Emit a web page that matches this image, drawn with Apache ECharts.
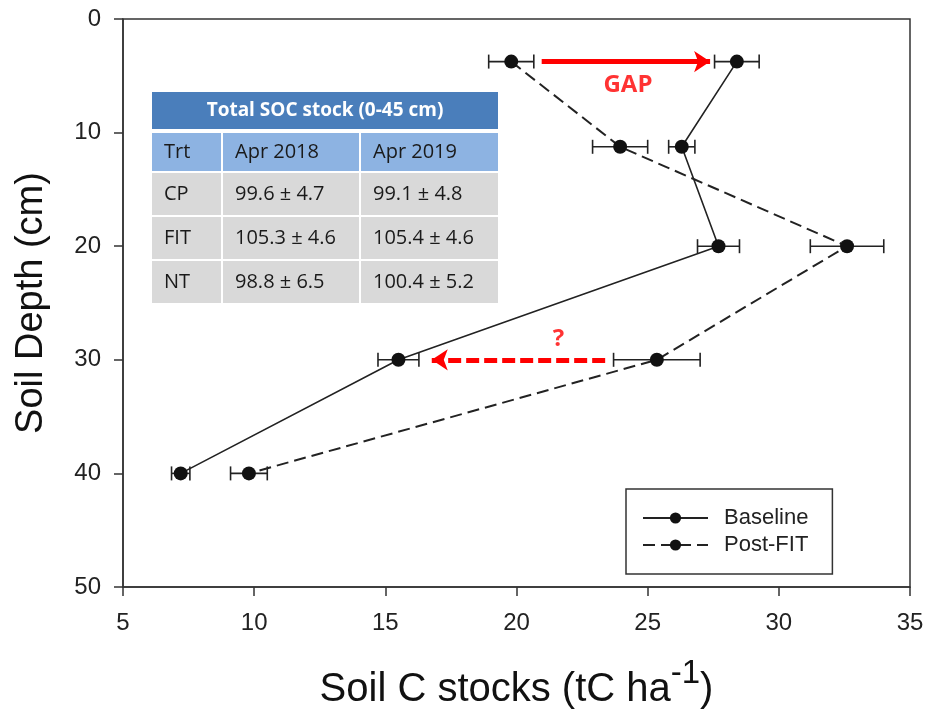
<!DOCTYPE html>
<html>
<head>
<meta charset="utf-8">
<script src="https://cdn.jsdelivr.net/npm/echarts@6/dist/echarts.min.js"></script>
<style>
  html, body { margin: 0; padding: 0; background: #fff; }
  #chart { width: 928px; height: 714px; }
</style>
</head>
<body>
<div id="chart"></div>
<script>
// ---- data ----
var depths        = [3.75, 11.25, 20, 30, 40];
var baselineX     = [28.4, 26.3, 27.7, 15.5, 7.2];
var baselineErr   = [0.85, 0.5, 0.8, 0.78, 0.35];
var postFitX      = [19.8, 23.95, 32.6, 25.35, 9.8];
var postFitErr    = [0.86, 1.05, 1.4, 1.65, 0.7];
var seriesNames   = ['Baseline', 'Post-FIT'];

var xTicks = [5, 10, 15, 20, 25, 30, 35];
var yTicks = [0, 10, 20, 30, 40, 50];

// annotation arrows (data units)
var gapArrow      = [[20.96, 3.75], [27.38, 3.75]];
var questionArrow = [[23.38, 30], [16.77, 30]];
var gapLabel      = ['GAP', 24.25, 5.8];
var questionLabel = ['?', 21.6, 28.2];

// inset table
var tableTitle  = 'Total SOC stock (0-45 cm)';
var tableHeader = ['Trt', 'Apr 2018', 'Apr 2019'];
var tableRows   = [
  ['CP',  '99.6 ± 4.7',  '99.1 ± 4.8'],
  ['FIT', '105.3 ± 4.6', '105.4 ± 4.6'],
  ['NT',  '98.8 ± 6.5',  '100.4 ± 5.2']
];

// ---- build ----
function pairs(xs, ys) { return xs.map(function (x, i) { return [x, ys[i]]; }); }
function triples(xs, ys, es) { return xs.map(function (x, i) { return [x, ys[i], es[i]]; }); }

function errRender(params, api) {
  var x = api.value(0), y = api.value(1), e = api.value(2);
  var a = api.coord([x - e, y]), b = api.coord([x + e, y]);
  var h = 7;
  var st = { stroke: '#222', lineWidth: 1.6 };
  return {
    type: 'group',
    children: [
      { type: 'line', shape: { x1: a[0], y1: a[1], x2: b[0], y2: b[1] }, style: st },
      { type: 'line', shape: { x1: a[0], y1: a[1] - h, x2: a[0], y2: a[1] + h }, style: st },
      { type: 'line', shape: { x1: b[0], y1: b[1] - h, x2: b[0], y2: b[1] + h }, style: st }
    ]
  };
}

// table graphics
var tblFont = '"Open Sans", "Noto Sans", sans-serif';
var colX = [152, 223, 361];
var colW = [69, 136, 137];
var tableLeft = 152, tableWidth = 346;
var rowY = [133, 173, 217, 261];
var rowH = [38, 42, 42, 42];
var graphics = [];
graphics.push({ type: 'rect', shape: { x: tableLeft, y: 92, width: tableWidth, height: 37 }, style: { fill: '#4a7ebb' }, z: 10 });
graphics.push({ type: 'text', x: tableLeft + tableWidth / 2, y: 110.5, z: 11,
  style: { text: tableTitle, fill: '#fff', font: 'bold 19px ' + tblFont, textAlign: 'center', textVerticalAlign: 'middle' } });
var allRows = [tableHeader].concat(tableRows);
allRows.forEach(function (row, r) {
  row.forEach(function (cell, c) {
    graphics.push({ type: 'rect', shape: { x: colX[c], y: rowY[r], width: colW[c], height: rowH[r] },
      style: { fill: r === 0 ? '#8db3e2' : '#d9d9d9' }, z: 10 });
    graphics.push({ type: 'text', x: colX[c] + 12, y: rowY[r] + rowH[r] / 2, z: 11,
      style: { text: cell, fill: '#1a1a1a', font: '20px ' + tblFont, textAlign: 'left', textVerticalAlign: 'middle' } });
  });
});

var axisFont = '"Liberation Sans", Arial, sans-serif';
var chart = echarts.init(document.getElementById('chart'));
chart.setOption({
  animation: false,
  backgroundColor: '#fff',
  grid: { left: 123, right: 18, top: 19, bottom: 127, show: true, borderColor: '#333', borderWidth: 1.5,
          containLabel: false, outerBoundsMode: 'none' },
  xAxis: {
    type: 'value', min: xTicks[0], max: xTicks[xTicks.length - 1], interval: 5,
    axisLine: { show: true, onZero: false, lineStyle: { color: '#333', width: 1.5 } },
    axisTick: { show: true, length: 9, lineStyle: { color: '#333', width: 1.5 } },
    splitLine: { show: false },
    axisLabel: { fontSize: 24, color: '#222', fontFamily: axisFont, margin: 24 },
    name: 'Soil C stocks (tC ha{sup|-1})',
    nameLocation: 'middle', nameGap: 82,
    nameTextStyle: { fontSize: 40, color: '#111', fontFamily: axisFont, lineHeight: 42,
      rich: { sup: { fontSize: 33, color: '#111', fontFamily: axisFont, lineHeight: 42, padding: [0, 0, 32, 0] } } }
  },
  yAxis: {
    type: 'value', inverse: true, min: yTicks[0], max: yTicks[yTicks.length - 1], interval: 10,
    axisLine: { show: true, onZero: false, lineStyle: { color: '#333', width: 1.5 } },
    axisTick: { show: true, length: 9, lineStyle: { color: '#333', width: 1.5 } },
    splitLine: { show: false },
    axisLabel: { fontSize: 24, color: '#222', fontFamily: axisFont, margin: 22 },
    name: 'Soil Depth (cm)', nameLocation: 'middle', nameGap: 72,
    nameTextStyle: { fontSize: 38, color: '#111', fontFamily: axisFont }
  },
  legend: {
    data: seriesNames,
    orient: 'vertical', left: 626, top: 489,
    padding: [18, 24, 18, 16], itemGap: 5, itemWidth: 65, itemHeight: 14,
    borderColor: '#333', borderWidth: 1.5, backgroundColor: '#fff',
    textStyle: { fontSize: 22, color: '#222', fontFamily: axisFont, padding: [0, 0, 0, 11] }
  },
  series: [
    { name: 'err-b', type: 'custom', renderItem: errRender, data: triples(baselineX, depths, baselineErr),
      encode: { x: 0, y: 1 }, z: 2, silent: true },
    { name: 'err-p', type: 'custom', renderItem: errRender, data: triples(postFitX, depths, postFitErr),
      encode: { x: 0, y: 1 }, z: 2, silent: true },
    { name: seriesNames[0], type: 'line', data: pairs(baselineX, depths),
      symbol: 'circle', symbolSize: 14, itemStyle: { color: '#111' },
      lineStyle: { color: '#222', width: 1.6, type: 'solid' }, z: 3 },
    { name: seriesNames[1], type: 'line', data: pairs(postFitX, depths),
      symbol: 'circle', symbolSize: 14, itemStyle: { color: '#111' },
      lineStyle: { color: '#222', width: 2, type: [12, 6] }, z: 3 },
    { type: 'lines', coordinateSystem: 'cartesian2d', silent: true, z: 4,
      symbol: ['none', 'arrow'], symbolSize: 16,
      lineStyle: { color: '#f00', width: 5, opacity: 1 },
      data: [{ coords: gapArrow }] },
    { type: 'lines', coordinateSystem: 'cartesian2d', silent: true, z: 4,
      symbol: ['none', 'arrow'], symbolSize: 16,
      lineStyle: { color: '#f00', width: 5, opacity: 1, type: [13, 5] },
      data: [{ coords: questionArrow }] },
    { type: 'scatter', symbolSize: 0, silent: true, z: 5,
      data: [
        { name: gapLabel[0], value: [gapLabel[1], gapLabel[2]] },
        { name: questionLabel[0], value: [questionLabel[1], questionLabel[2]] }
      ],
      label: { show: true, position: 'inside', formatter: '{b}', color: '#f00',
        fontSize: 24, fontWeight: 'bold', fontFamily: '"Open Sans", sans-serif' } }
  ],
  graphic: graphics
});
</script>
</body>
</html>
